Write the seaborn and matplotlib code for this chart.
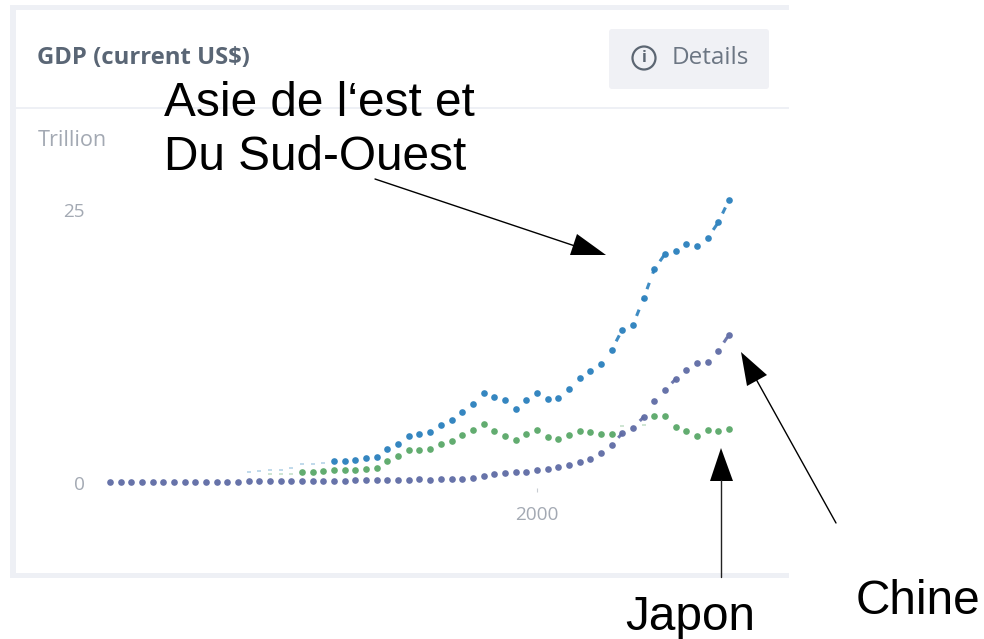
import numpy as np
import pandas as pd
import seaborn as sns
import matplotlib.pyplot as plt
from matplotlib.patches import Rectangle, Polygon, Circle, FancyBboxPatch

# values in trillion US$
years_china = list(range(1960, 2019))
china = [0.06, 0.05, 0.05, 0.05, 0.06, 0.07, 0.08, 0.07, 0.07, 0.08, 0.09, 0.10, 0.11,
         0.14, 0.14, 0.15, 0.15, 0.17, 0.15, 0.18, 0.19, 0.20, 0.21, 0.23, 0.26, 0.31,
         0.30, 0.27, 0.31, 0.35, 0.31, 0.37, 0.37, 0.40, 0.49, 0.67, 0.82, 0.92, 0.98,
         1.04, 1.16, 1.28, 1.43, 1.65, 1.89, 2.23, 2.72, 3.48, 4.55, 5.04, 6.04, 7.51,
         8.49, 9.52, 10.38, 10.99, 11.08, 12.12, 13.58]

years_asia = list(range(1981, 2019))
asia = [2.05, 1.98, 2.11, 2.26, 2.35, 3.08, 3.60, 4.33, 4.52,
        4.64, 5.28, 5.77, 6.47, 7.23, 8.27, 7.91, 7.60, 6.81, 7.60, 8.27, 7.66, 7.78,
        8.58, 9.58, 10.26, 10.87, 12.18, 14.04, 14.47, 16.91, 19.57, 20.97, 21.21,
        21.86, 21.70, 22.44, 23.87, 25.92]

years_japon = list(range(1978, 2008)) + list(range(2011, 2019))
japon = [0.98, 1.04, 1.10, 1.19, 1.16, 1.22, 1.28, 1.37, 2.05, 2.50, 3.02, 3.02,
         3.08, 3.54, 3.85, 4.40, 4.85, 5.37, 4.79, 4.33, 3.97, 4.49, 4.82, 4.24, 4.06,
         4.40, 4.76, 4.70, 4.46, 4.46, 6.10, 6.14, 5.13, 4.79, 4.30, 4.85, 4.79, 4.91]

# these years only show as faint little dashes
years_asia_faint = [1973, 1974, 1975, 1976, 1977, 1978, 1979, 1980]
asia_faint = [0.98, 1.10, 1.22, 1.22, 1.37, 1.71, 1.77, 1.86]
years_japon_faint = [1975, 1976, 1977, 2008, 2010]
japon_faint = [0.80, 0.80, 0.85, 5.22, 5.31]

# steep stretches where a dash shows between two yearly dots
asia_links = [2007, 2009, 2010, 2011, 2016, 2017]
china_links = [2007, 2009, 2012, 2017]

BLUE = '#2a80bd'
GREEN = '#5aa868'
PURPLE = '#5f6ba5'
GREY = '#a3a9b3'
EDGE = '#eef0f5'

W, H = 984, 639
sns.set_theme(style='white')
plt.rcParams['font.family'] = ['Open Sans', 'DejaVu Sans']

fig = plt.figure(figsize=(W / 100, H / 100), dpi=100, facecolor='white')

# card, button and arrows are drawn in pixel coordinates
bg = fig.add_axes([0, 0, 1, 1])
bg.set_xlim(0, W)
bg.set_ylim(H, 0)
bg.axis('off')
bg.add_patch(Rectangle((10, 5), 779, 573, fc=EDGE, ec='none'))
bg.add_patch(Rectangle((16, 10), 773, 563, fc='white', ec='none'))
bg.add_patch(Rectangle((16, 107), 773, 2, fc=EDGE, ec='none'))
bg.add_patch(FancyBboxPatch((612, 32), 154, 54, boxstyle='round,pad=3', fc='#f0f1f5', ec='none'))
bg.add_patch(Circle((644, 58), 11.5, fc='none', ec='#5c6672', lw=1.6))
bg.text(644, 58.5, 'i', color='#5c6672', fontsize=11.5, fontweight='bold', ha='center', va='center')
bg.text(672, 58, 'Details', color='#6c7683', fontsize=17.5, ha='left', va='center')
bg.text(37, 58, 'GDP (current US$)', color='#5a6675', fontsize=17.2, fontweight='bold', ha='left', va='center')
bg.text(38, 140, 'Trillion', color=GREY, fontsize=15.6, ha='left', va='center')

# plot area: 1960-2018 spans x 110-729, 0-25 spans y 483-210
ax = fig.add_axes([110 / W, 1 - 492 / H, (729 - 110) / W, (492 - 210) / H])
ax.patch.set_alpha(0)

df_china = pd.DataFrame({'year': years_china, 'value': china})
df_asia = pd.DataFrame({'year': years_asia, 'value': asia})
df_japon = pd.DataFrame({'year': years_japon, 'value': japon})
df_asia_faint = pd.DataFrame({'year': years_asia_faint, 'value': asia_faint})
df_japon_faint = pd.DataFrame({'year': years_japon_faint, 'value': japon_faint})


def draw_links(df, links, colour):
    # gap, then a short dash, starting from the earlier year
    for y in links:
        part = df[df['year'].isin([y, y + 1])]
        sns.lineplot(data=part, x='year', y='value', color=colour, lw=2.2, alpha=0.9, ax=ax, clip_on=False,
                     linestyle=(2.2, (2.2, 3.2)))


for df, faint, colour in [(df_asia, df_asia_faint, BLUE), (df_japon, df_japon_faint, GREEN)]:
    sns.scatterplot(data=faint, x='year', y='value', color=colour, s=6, marker='_', alpha=0.35,
                    linewidth=1.2, ax=ax, clip_on=False)
    sns.scatterplot(data=df, x='year', y='value', color=colour, s=23, alpha=0.95, linewidth=0, ax=ax, clip_on=False)
draw_links(df_asia, asia_links, BLUE)
sns.scatterplot(data=df_china, x='year', y='value', color=PURPLE, s=23, alpha=0.95, linewidth=0, ax=ax, clip_on=False)
draw_links(df_china, china_links, PURPLE)

ax.set_xlim(1960, 2018)
ax.set_ylim(-9 / 10.92, 25)
ax.set_xlabel('')
ax.set_ylabel('')
ax.set_xticks([2000])
ax.set_yticks([0, 25])
ax.tick_params(axis='x', direction='in', length=3, width=0.8, color='#c8ccd2', pad=10,
               labelsize=13.7, labelcolor=GREY, bottom=True)
ax.tick_params(axis='y', length=0, pad=18, labelsize=13.7, labelcolor=GREY)
sns.despine(ax=ax, left=True, bottom=True)

# labels and arrows pasted on top of the chart
fg = fig.add_axes([0, 0, 1, 1])
fg.set_xlim(0, W)
fg.set_ylim(H, 0)
fg.axis('off')
fg.patch.set_alpha(0)
label_font = {'family': 'Liberation Sans', 'color': 'black', 'fontsize': 34.4, 'ha': 'left', 'va': 'center'}
fg.text(164, 104, 'Asie de l‘est et', **label_font)
fg.text(164, 158, 'Du Sud-Ouest', **label_font)
fg.text(856, 601, 'Chine', **label_font)
fg.text(625, 618, 'Japon', **label_font)

fg.plot([375, 575], [179, 246], color='black', lw=1)
fg.add_patch(Polygon([(577, 234), (570, 255), (606, 255)], fc='black', ec='none'))
fg.plot([836, 756], [523, 379], color='black', lw=1)
fg.add_patch(Polygon([(741, 352), (747, 386), (767, 375)], fc='black', ec='none'))
fg.plot([721, 721], [577, 480], color='#222222', lw=1)
fg.add_patch(Polygon([(721, 448), (710, 481), (733, 481)], fc='black', ec='none'))

fig.savefig('out.png', dpi=100)
